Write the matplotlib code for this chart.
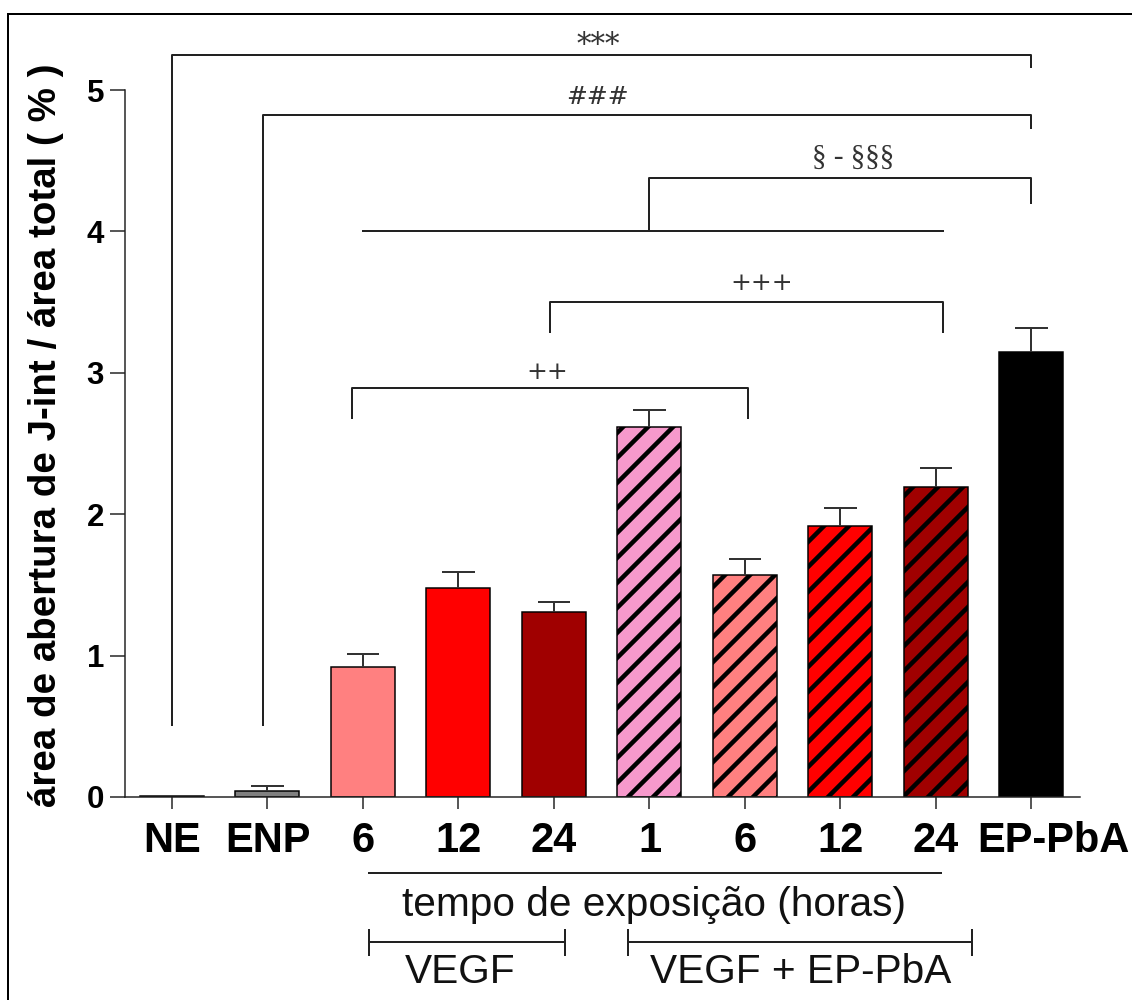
import numpy as np
import matplotlib
matplotlib.use("Agg")
import matplotlib.pyplot as plt
from matplotlib.patches import Rectangle
from matplotlib.transforms import ScaledTranslation

# ─── DATA ─────────────────────────────────────────────────────────────────────
categories = ["NE", "ENP", "6", "12", "24", "1", "6", "12", "24", "EP-PbA"]
means      = [0.01, 0.04, 0.92, 1.48, 1.31, 2.62, 1.57, 1.92, 2.19, 3.15]
sems       = [0.00, 0.035, 0.09, 0.11, 0.07, 0.115, 0.11, 0.125, 0.135, 0.17]
colors     = ["#202020", "#808080", "#FF8080", "#FF0000", "#A00000",
              "#F799CC", "#FF8080", "#FF0000", "#A00000", "#000000"]
hatches    = ["", "", "", "", "", "//", "//", "//", "//", ""]

y_ticks    = [0, 1, 2, 3, 4, 5]

DPI = 150
PT = 72 / DPI            # pixels -> points

plt.rcParams["font.family"] = ["Liberation Sans", "DejaVu Sans"]
plt.rcParams["hatch.linewidth"] = 4.5 * PT
plt.rcParams["hatch.color"] = "black"

fig = plt.figure(figsize=(1132 / DPI, 1000 / DPI), dpi=DPI)
fig.patch.set_facecolor("white")

# outer frame
fig.patches.append(Rectangle((8 / 1132, -0.1), 1.2, 0.986 + 0.1,
                             transform=fig.transFigure, fill=False,
                             edgecolor="black", linewidth=2 * PT))

ax = fig.add_axes([125 / 1132, 0.203, 955 / 1132, 5.4 * 141.4 / 1000])
x = np.arange(len(categories))

ax.bar(x, means, width=0.67, color=colors, edgecolor="black",
       linewidth=1.5 * PT, hatch=hatches, zorder=2)

# upper error bars only
tops = np.array(means) + np.array(sems)
has_err = np.array(sems) > 0
ax.vlines(x[has_err], np.array(means)[has_err], tops[has_err],
          color="#333333", linewidth=2 * PT, zorder=3)
ax.hlines(tops[has_err], x[has_err] - 0.168, x[has_err] + 0.168,
          color="#333333", linewidth=2 * PT, zorder=3)

ax.set_xlim(-0.492, 9.508)
ax.set_ylim(0, 5.4)
ax.set_xticks(x)
ax.set_xticklabels(categories, fontsize=20, fontweight="bold")
ax.set_yticks(y_ticks)
ax.set_yticklabels([str(v) for v in y_ticks], fontsize=15, fontweight="bold")
ax.tick_params(axis="x", direction="out", length=12 * PT, width=1.5 * PT,
               pad=12 * PT, color="#222222")
ax.tick_params(axis="y", direction="out", length=15 * PT, width=1.5 * PT,
               pad=6 * PT, color="#222222")

# last label sits to the right of its tick, as in the original
last = ax.get_xticklabels()[-1]
last.set_transform(last.get_transform()
                   + ScaledTranslation(22 / DPI, 0, fig.dpi_scale_trans))

for s in ["top", "right"]:
    ax.spines[s].set_visible(False)
ax.spines["left"].set_bounds(0, 5)
for s in ["left", "bottom"]:
    ax.spines[s].set_linewidth(1.5 * PT)
    ax.spines[s].set_color("#222222")

ax.set_ylabel("área de abertura de J-int / área total ( % )",
              fontsize=18.5, fontweight="bold")
ax.yaxis.set_label_coords(-0.064, 0.474)

# ─── SIGNIFICANCE BRACKETS ────────────────────────────────────────────────────
lkw = dict(color="#222222", linewidth=2 * PT, clip_on=False, zorder=4)
skw = dict(family=["DejaVu Serif"], fontsize=12,
           ha="center", va="center", color="#333333")
sec = dict(skw, family=["Liberation Serif", "DejaVu Serif"], fontsize=14)

# ***  NE vs EP-PbA
ax.plot([0, 0, 9, 9], [0.51, 5.247, 5.247, 5.16], **lkw)
ax.text(4.46, 5.32, "***", **dict(skw, fontsize=14))
# ###  ENP vs EP-PbA
ax.plot([0.95, 0.95, 9, 9], [0.51, 4.82, 4.82, 4.73], **lkw)
ax.text(4.45, 4.95, "###", **skw)
# § - §§§  VEGF groups vs EP-PbA
ax.plot([2, 8.07], [4.0, 4.0], **lkw)
ax.plot([5.0, 5.0, 9, 9], [4.0, 4.378, 4.378, 4.2], **lkw)
ax.text(7.13, 4.52, "§ - §§§", **sec)
# +++
ax.plot([3.96, 3.96, 8.07, 8.07], [3.29, 3.50, 3.50, 3.29], **lkw)
ax.text(6.18, 3.63, "+++", **skw)
# ++
ax.plot([1.885, 1.885, 6.03, 6.03], [2.68, 2.89, 2.89, 2.68], **lkw)
ax.text(3.93, 3.0, "++", **skw)

# ─── GROUP LABELS BELOW AXIS ──────────────────────────────────────────────────
ax.plot([2.06, 8.05], [-0.537, -0.537], **lkw)
ax.text(5.05, -0.764, "tempo de exposição (horas)", fontsize=19.5,
        ha="center", va="center", color="#111111")

ax.plot([2.06, 4.12], [-1.025, -1.025], **lkw)
ax.plot([2.06, 2.06], [-0.94, -1.117], **lkw)
ax.plot([4.12, 4.12], [-0.94, -1.117], **lkw)
ax.text(3.02, -1.24, "VEGF", fontsize=19.5, ha="center", va="center",
        color="#111111")

ax.plot([4.77, 8.38], [-1.025, -1.025], **lkw)
ax.plot([4.77, 4.77], [-0.94, -1.117], **lkw)
ax.plot([8.38, 8.38], [-0.94, -1.117], **lkw)
ax.text(6.58, -1.24, "VEGF + EP-PbA", fontsize=19.5, ha="center",
        va="center", color="#111111")

fig.savefig("out.png", dpi=DPI)
